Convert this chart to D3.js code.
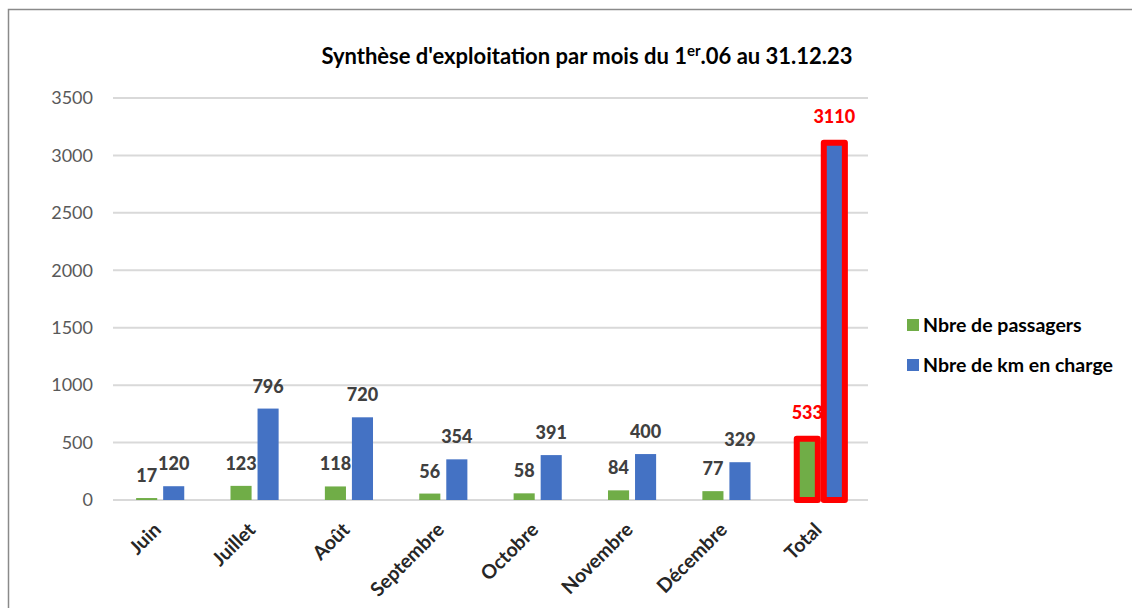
<!DOCTYPE html>
<html>
<head>
<meta charset="utf-8">
<script src="https://cdn.jsdelivr.net/npm/d3@7"></script>
<style>
  body { margin:0; background:#fff; }
  #canvas { width:1132px; height:608px; }
  text { font-family: Lato, "Open Sans", sans-serif; }
</style>
</head>
<body>
<div id="canvas" class="canvas"></div>
<script>
// data
var months = ['Juin','Juillet','Août','Septembre','Octobre','Novembre','Décembre','Total'];
var passagers = [17,123,118,56,58,84,77,533];
var km = [120,796,720,354,391,400,329,3110];
var seriesNames = ['Nbre de passagers','Nbre de km en charge'];
var yTicks = [0,500,1000,1500,2000,2500,3000,3500];

var colors = ['#70ad47','#4472c4'];
var W = 1132, H = 608;

var svg = d3.select('.canvas')
    .append('svg')
    .attr('width',W)
    .attr('height',H);

// frame (top + left only)
svg.append('path')
    .attr('d','M8.5,608 L8.5,9.5 L1132,9.5')
    .attr('fill','none')
    .attr('stroke','#8a8a8a')
    .attr('stroke-width',1.5);

var m = {t:98, l:113, r:868, b:500};

var scaleY = d3.scaleLinear().domain([0,3500]).range([m.b,m.t]);
var scaleX = d3.scaleBand().domain(months).range([m.l,m.r]).paddingInner(0.49).paddingOuter(0.245);
var scaleX1 = d3.scaleBand().domain([0,1]).range([0,scaleX.bandwidth()]).paddingInner(0.22);

// gridlines
svg.append('g').selectAll('line')
    .data(yTicks).enter().append('line')
    .attr('x1',m.l).attr('x2',m.r)
    .attr('y1',function(d){ return scaleY(d); })
    .attr('y2',function(d){ return scaleY(d); })
    .attr('stroke','#d9d9d9')
    .attr('stroke-width',2);

// y axis labels
var axisY = d3.axisLeft(scaleY).tickValues(yTicks).tickFormat(d3.format('d')).tickSize(0).tickPadding(20);
var axisNode = svg.append('g').attr('transform','translate(' + m.l + ',0)');
axisY(axisNode);
axisNode.select('.domain').remove();
axisNode.selectAll('text')
    .style('font-family','Lato, sans-serif')
    .style('font-size','18px')
    .attr('fill','#595959');

// bars
var rows = months.map(function(mo,i){ return {month:mo, vals:[passagers[i], km[i]]}; });

rows.forEach(function(row){
  var g = svg.append('g').attr('transform','translate(' + scaleX(row.month) + ',0)');
  var isTotal = row.month === 'Total';
  row.vals.forEach(function(v,j){
    g.append('rect')
      .attr('x',scaleX1(j))
      .attr('y',scaleY(v))
      .attr('width',scaleX1.bandwidth())
      .attr('height',scaleY(0) - scaleY(v))
      .attr('fill',colors[j])
      .attr('stroke',isTotal ? '#ff0000' : 'none')
      .attr('stroke-width',isTotal ? 6 : 0)
      .attr('stroke-linejoin','round');

    g.append('text')
      .attr('x',scaleX1(j) + scaleX1.bandwidth()/2)
      .attr('y',scaleY(v) - (isTotal ? 20 : 16))
      .attr('text-anchor','middle')
      .style('font-size','18px')
      .style('font-weight','900')
      .attr('fill',isTotal ? '#ff0000' : '#404040')
      .text(v);
  });
});

// x labels
svg.append('g').selectAll('text')
    .data(months).enter().append('text')
    .attr('transform',function(d){ return 'translate(' + (scaleX(d) + scaleX.bandwidth()/2 + 2) + ',531) rotate(-45)'; })
    .attr('text-anchor','end')
    .style('font-size','19.5px')
    .style('font-weight','bold')
    .attr('fill','#262626')
    .text(function(d){ return d; });

// title
var title = svg.append('text')
    .attr('x',587).attr('y',64)
    .attr('text-anchor','middle')
    .style('font-size','22px')
    .style('font-weight','bold')
    .attr('fill','#000');
title.append('tspan').text("Synthèse d'exploitation par mois du 1");
title.append('tspan').attr('dy',-8).style('font-size','15px').text('er');
title.append('tspan').attr('dy',8).text('.06 au 31.12.23');

// legend
var legend = svg.append('g').selectAll('g')
    .data(seriesNames).enter().append('g')
    .attr('transform',function(d,i){ return 'translate(907,' + (325 + i*40) + ')'; });
legend.append('rect')
    .attr('x',0).attr('y',-6)
    .attr('width',12).attr('height',12)
    .attr('fill',function(d,i){ return colors[i]; });
legend.append('text')
    .attr('x',16).attr('y',6.5)
    .style('font-size','19.5px')
    .style('font-weight','bold')
    .attr('fill','#000')
    .text(function(d){ return d; });
</script>
</body>
</html>
